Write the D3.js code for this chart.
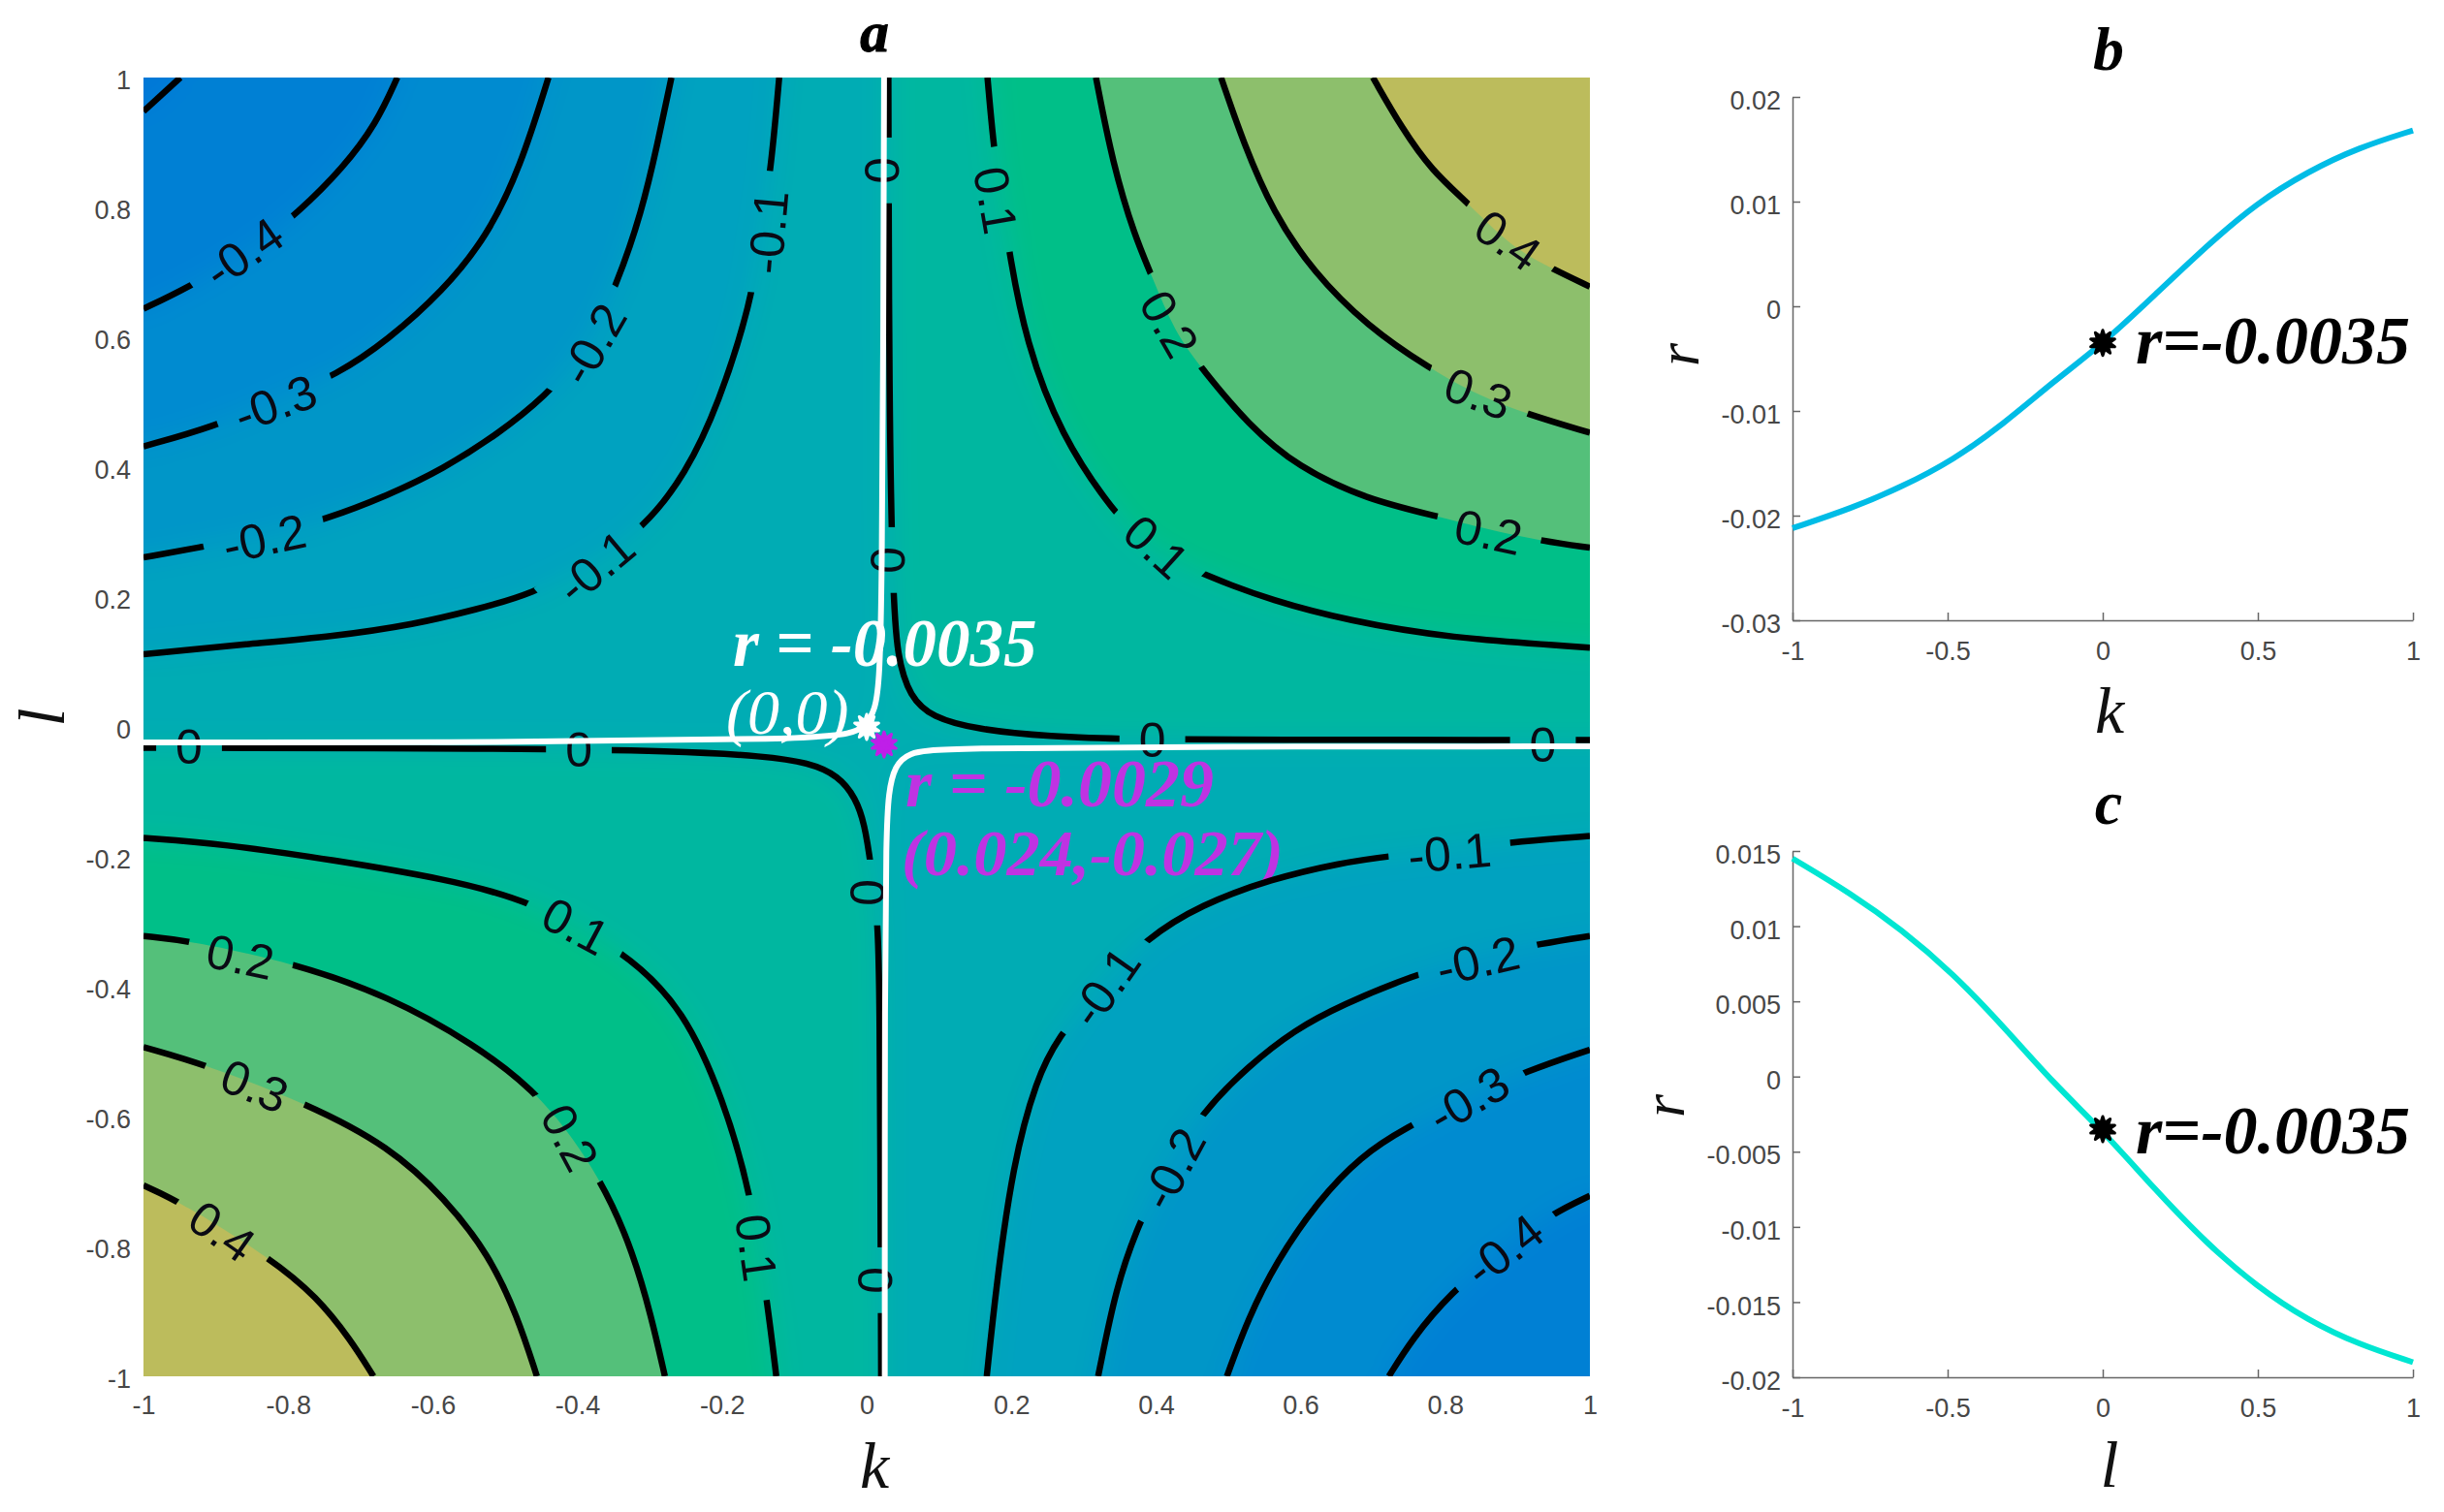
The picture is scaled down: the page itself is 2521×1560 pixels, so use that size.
<!DOCTYPE html>
<html>
<head>
<meta charset="utf-8">
<style>
  html, body { margin: 0; padding: 0; background: #fff; }
  svg { display: block; }
  .tick text { fill: #474747; font-family: "Liberation Sans", sans-serif; font-size: 27px; }
</style>
<script src="https://cdn.jsdelivr.net/npm/d3@7"></script>
</head>
<body>
<svg id="chart" width="2521" height="1560"></svg>
<script>
// contours of panel a as [k, l]
const upLeftZero = [[-1,-.024],[-.5,-.024],[-.08,-.019],[-.02,-.01],[-.003,0],[.012,.025],[.018,.075],[.021,.224],[.023,.6],[.024,1]]
const upLeftM1 = [[-1,.112],[-.853,.128],[-.739,.139],[-.624,.158],[-.54,.181],[-.464,.204],[-.38,.253],[-.308,.306],[-.25,.39],[-.205,.496],[-.159,.656],[-.147,.755],[-.132,.861],[-.121,1]]
const upLeftM2 = [[-1,.261],[-.926,.276],[-.83,.295],[-.747,.32],[-.663,.356],[-.586,.397],[-.51,.451],[-.445,.508],[-.388,.58],[-.346,.679],[-.311,.793],[-.289,.899],[-.27,1]]
const upLeftM3 = [[-1,.432],[-.903,.462],[-.815,.504],[-.731,.543],[-.663,.595],[-.586,.671],[-.525,.755],[-.479,.861],[-.44,1]]
const upLeftM4 = [[-1,.644],[-.941,.675],[-.853,.732],[-.785,.793],[-.724,.861],[-.678,.929],[-.649,1]]
const upLeftM5 = [[-1,.948],[-.949,1]]

const upRightZero = [[.03,1],[.031,.5],[.036,.213],[.042,.107],[.06,.046],[.09,.015],[.152,-.004],[.254,-.015],[.36,-.019],[.528,-.02],[1,-.02]]
const upRightP1 = [[.167,1],[.176,.887],[.186,.815],[.198,.724],[.22,.594],[.268,.449],[.343,.328],[.391,.274],[.47,.232],[.562,.194],[.665,.164],[.802,.137],[1,.122]]
const upRightP2 = [[.317,1],[.34,.868],[.371,.754],[.395,.693],[.425,.609],[.466,.548],[.528,.465],[.596,.4],[.692,.35],[.791,.324],[.856,.305],[.935,.286],[1,.276]]
const upRightP3 = [[.49,1],[.521,.899],[.562,.792],[.617,.701],[.692,.617],[.778,.552],[.846,.51],[.915,.481],[1,.453]]
const upRightP4 = [[.7,1],[.74,.922],[.781,.857],[.832,.806],[.891,.739],[.949,.705],[1,.678]]

const lowLeftZero = [[-1,-.032],[-.5,-.033],[-.26,-.037],[-.141,-.045],[-.08,-.055],[-.039,-.075],[-.015,-.11],[-.003,-.149],[.006,-.213],[.015,-.299],[.018,-.373],[.02,-1]]
const lowLeftP1 = [[-1,-.171],[-.891,-.18],[-.737,-.205],[-.583,-.234],[-.468,-.266],[-.333,-.346],[-.252,-.436],[-.198,-.574],[-.16,-.718],[-.137,-.889],[-.125,-1]]
const lowLeftP2 = [[-1,-.322],[-.937,-.329],[-.791,-.364],[-.66,-.415],[-.545,-.487],[-.448,-.567],[-.364,-.7],[-.322,-.813],[-.298,-.907],[-.279,-1]]
const lowLeftP3 = [[-1,-.493],[-.914,-.52],[-.772,-.581],[-.66,-.646],[-.583,-.726],[-.522,-.813],[-.483,-.907],[-.456,-1]]
const lowLeftP4 = [[-1,-.706],[-.948,-.732],[-.822,-.82],[-.76,-.878],[-.714,-.943],[-.682,-1]]

const lowRightZero = [[1,-.03],[.5,-.03],[.1,-.0325],[.057,-.04],[.039,-.06],[.03,-.1],[.027,-.17],[.025,-.37],[.025,-1]]
const lowRightM1 = [[.166,-1],[.179,-.862],[.202,-.673],[.235,-.541],[.264,-.479],[.319,-.403],[.387,-.325],[.462,-.274],[.559,-.234],[.657,-.209],[.722,-.199],[.819,-.187],[.904,-.176],[1,-.168]]
const lowRightM2 = [[.32,-1],[.345,-.862],[.374,-.771],[.41,-.686],[.465,-.592],[.527,-.523],[.592,-.466],[.657,-.428],[.754,-.383],[.845,-.353],[.936,-.333],[1,-.322]]
const lowRightM3 = [[.498,-1],[.527,-.912],[.566,-.824],[.624,-.73],[.683,-.661],[.745,-.617],[.826,-.573],[.914,-.529],[1,-.497]]
const lowRightM4 = [[.722,-1],[.754,-.943],[.805,-.874],[.884,-.799],[.949,-.749],[1,-.722]]

// contour labels of panel a
const labelText = ['-0.4','-0.3','-0.2','-0.1','-0.2','-0.1','0.1','0.2','0.1','0.4','0.3','0.2','0.1','0.2','0.3','0.4','0.2','0.1','-0.1','-0.2','-0.3','-0.4','-0.1','-0.2','0','0','0','0','0','0','0','0']
const labelK = [-.862,-.818,-.833,-.375,-.379,-.137,.179,.419,.401,.887,.846,.86,-.402,-.866,-.846,-.891,-.41,-.152,.806,.845,.832,.881,.329,.423,.022,.029,.395,.935,-.937,-.398,.001,.012]
const labelL = [.731,.499,.291,.247,.59,.762,.811,.621,.278,.75,.514,.301,-.306,-.353,-.552,-.776,-.632,-.802,-.193,-.359,-.573,-.805,-.4,-.68,.857,.257,-.019,-.027,-.03,-.034,-.255,-.852]
const labelAngle = [-35,-20,-12,-40,-60,-85,80,60,42,35,20,12,28,12,22,35,62,82,-5,-13,-30,-38,-55,-62,90,90,0,0,0,0,90,90]

// line panels
const kValues = [-1,-.812,-.648,-.484,-.321,-.157,0,.17,.334,.497,.661,.825,1]
const rByK = [-.0212,-.01933,-.01726,-.01473,-.01128,-.00714,-.0036,.00114,.00574,.00988,.01287,.01517,.0168]
const lValues = [-1,-.812,-.648,-.484,-.321,-.157,0,.17,.334,.497,.661,.825,1]
const rByL = [.0145,.01218,.00977,.00688,.00336,-.00049,-.0036,-.00755,-.01108,-.01397,-.01621,-.01782,-.019]

const mapTicks = [-1,-.8,-.6,-.4,-.2,0,.2,.4,.6,.8,1]
const lineXTicks = [-1,-.5,0,.5,1]
const rTicksB = [-.03,-.02,-.01,0,.01,.02]
const rTicksC = [-.02,-.015,-.01,-.005,0,.005,.01,.015]

const negColors = ['#00acb4','#00a2c0','#0096c8','#008bd0','#0080d4','#0078d8']
const posColors = ['#00b7a0','#00bf88','#54c07a','#8dbf6c','#bcbc5c']

const serif = '"Liberation Serif", serif'
const svg = d3.select('#chart')
const defs = svg.append('defs')

const x = d3.scaleLinear().domain([-1, 1]).range([148, 1640])
const y = d3.scaleLinear().domain([-1, 1]).range([1420, 80])
const contourLine = d3.line().x(d => x(d[0])).y(d => y(d[1])).curve(d3.curveBasis)

defs.append('clipPath').attr('id', 'plotClip').append('rect')
  .attr('x', x(-1)).attr('y', y(1)).attr('width', x(1) - x(-1)).attr('height', y(-1) - y(1))
defs.append('filter').attr('id', 'soft')
  .attr('filterUnits', 'userSpaceOnUse')
  .attr('x', 0).attr('y', 0).attr('width', 2000).attr('height', 1560)
  .append('feGaussianBlur').attr('stdDeviation', 15)

// region behind a contour, closed through the corner of its quadrant
// pushed past the plot edge so the blur doesn't fade at the border
function region(pts, cornerK, cornerL) {
  const out = p => [Math.abs(p[0]) === 1 ? p[0] * 1.2 : p[0], Math.abs(p[1]) === 1 ? p[1] * 1.2 : p[1]]
  const first = out(pts[0]), last = out(pts[pts.length - 1])
  const tail = [last, [cornerK * 1.2, cornerL * 1.2], first]
  return contourLine(pts) + tail.map(p => `L${x(p[0])},${y(p[1])}`).join('') + 'Z'
}

const clipped = svg.append('g').attr('clip-path', 'url(#plotClip)')
const softLayer = clipped.append('g').attr('filter', 'url(#soft)')
const sharpLayer = clipped.append('g')

softLayer.append('rect').attr('x', 0).attr('y', 0).attr('width', 2000).attr('height', 1560).attr('fill', '#00aeb0')

const softBands = [
  [upLeftZero, -1, 1, negColors[0]], [upLeftM1, -1, 1, negColors[1]], [upLeftM2, -1, 1, negColors[2]],
  [upLeftM3, -1, 1, negColors[3]], [upLeftM4, -1, 1, negColors[4]], [upLeftM5, -1, 1, negColors[5]],
  [lowRightZero, 1, -1, negColors[0]], [lowRightM1, 1, -1, negColors[1]], [lowRightM2, 1, -1, negColors[2]],
  [lowRightM3, 1, -1, negColors[3]], [lowRightM4, 1, -1, negColors[4]],
  [upRightZero, 1, 1, posColors[0]], [upRightP1, 1, 1, posColors[1]],
  [lowLeftZero, -1, -1, posColors[0]], [lowLeftP1, -1, -1, posColors[1]]
]
const sharpBands = [
  [upRightP2, 1, 1, posColors[2]], [upRightP3, 1, 1, posColors[3]], [upRightP4, 1, 1, posColors[4]],
  [lowLeftP2, -1, -1, posColors[2]], [lowLeftP3, -1, -1, posColors[3]], [lowLeftP4, -1, -1, posColors[4]]
]
softLayer.selectAll('path').data(softBands).join('path')
  .attr('d', d => region(d[0], d[1], d[2])).attr('fill', d => d[3])
sharpLayer.selectAll('path').data(sharpBands).join('path')
  .attr('d', d => region(d[0], d[1], d[2])).attr('fill', d => d[3])

// annotations sit under the contour lines
function note(sel, txt, px, py, color, weight, size) {
  return sel.append('text').text(txt).attr('x', px).attr('y', py)
    .attr('fill', color).attr('font-family', serif).attr('font-style', 'italic')
    .attr('font-weight', weight).attr('font-size', size)
}
note(clipped, 'r = -0.0035', 756, 687, '#fff', 'bold', 69)
note(clipped, '(0,0)', 749, 757, '#fff', 'normal', 66)
note(clipped, 'r = -0.0029', 934, 832, '#bf33e2', 'bold', 70)
note(clipped, '(0.024,-0.027)', 930, 903, '#bf33e2', 'bold', 68.5)

// contour labels, measured first so the gaps in the lines fit them
const labels = labelText.map((t, i) => ({ t, k: labelK[i], l: labelL[i], a: labelAngle[i] }))
const labelSel = svg.append('g').selectAll('text').data(labels).join('text')
  .text(d => d.t)
  .attr('text-anchor', 'middle').attr('dy', '.36em')
  .attr('font-family', '"Liberation Sans", sans-serif').attr('font-size', 50).attr('fill', '#0a0a14')
  .attr('transform', d => `translate(${x(d.k)},${y(d.l)}) rotate(${d.a})`)
labelSel.each(function (d) { d.w = this.getComputedTextLength() })

const gaps = defs.append('mask').attr('id', 'labelGaps').attr('maskUnits', 'userSpaceOnUse')
  .attr('x', 0).attr('y', 0).attr('width', 2521).attr('height', 1560)
gaps.append('rect').attr('width', 2521).attr('height', 1560).attr('fill', '#fff')
gaps.selectAll('rect.gap').data(labels).join('rect').attr('class', 'gap')
  .attr('x', d => -d.w / 2 - 20).attr('y', -24).attr('width', d => d.w + 40).attr('height', 48)
  .attr('fill', '#000')
  .attr('transform', d => `translate(${x(d.k)},${y(d.l)}) rotate(${d.a})`)

const blackLines = [upLeftM1, upLeftM2, upLeftM3, upLeftM4, upLeftM5,
  upRightZero, upRightP1, upRightP2, upRightP3, upRightP4,
  lowLeftZero, lowLeftP1, lowLeftP2, lowLeftP3, lowLeftP4,
  lowRightM1, lowRightM2, lowRightM3, lowRightM4]
const lineLayer = clipped.append('g').attr('mask', 'url(#labelGaps)')
lineLayer.selectAll('path').data(blackLines).join('path')
  .attr('d', contourLine).attr('fill', 'none').attr('stroke', '#000').attr('stroke-width', 6.5)

svg.node().appendChild(labelSel.node().parentNode)

const whiteLayer = svg.append('g').attr('clip-path', 'url(#plotClip)')
whiteLayer.selectAll('path').data([upLeftZero, lowRightZero]).join('path')
  .attr('d', contourLine).attr('fill', 'none').attr('stroke', '#fff').attr('stroke-width', 6)

function marker(sel, px, py, color, size) {
  // two stars on top of each other give the blobby hexagram of the original
  ;[0, 36].forEach(a => {
    sel.append('path').attr('d', d3.symbol(d3.symbolStar, size)())
      .attr('transform', `translate(${px},${py}) rotate(${a})`)
      .attr('fill', color).attr('stroke', color).attr('stroke-width', 3).attr('stroke-linejoin', 'round')
  })
}
marker(svg, x(0), y(0), '#fff', 190)
marker(svg, x(.024), y(-.027), '#bf1fe8', 190)

// axes of panel a
const axisA = svg.append('g')
axisA.append('g').attr('transform', `translate(0,${y(-1)})`)
  .call(d3.axisBottom(x).tickValues(mapTicks).tickFormat(d => String(d)).tickSize(0).tickPadding(20))
axisA.append('g').attr('transform', `translate(${x(-1)},3)`)
  .call(d3.axisLeft(y).tickValues(mapTicks).tickFormat(d => String(d)).tickSize(0).tickPadding(13))
axisA.selectAll('.domain').remove()

function title(txt, px, py, size) {
  return svg.append('text').text(txt).attr('x', px).attr('y', py).attr('text-anchor', 'middle')
    .attr('font-family', serif).attr('font-style', 'italic').attr('font-weight', 'bold').attr('font-size', size)
}
function axisName(txt, px, py, angle, size) {
  svg.append('text').text(txt).attr('text-anchor', 'middle')
    .attr('transform', `translate(${px},${py}) rotate(${angle})`)
    .attr('font-family', serif).attr('font-style', 'italic').attr('font-size', size).attr('fill', '#111')
}
// sits hard against the top edge, so a size down with a stroke to keep the weight
title('a', 902, 53, 59).attr('stroke', '#000').attr('stroke-width', 1.2)
axisName('k', 902, 1535, 0, 68)
axisName('l', 66, 740, -90, 68)

function linePanel(cfg) {
  const px = d3.scaleLinear().domain([-1, 1]).range([1849, 2489])
  const py = d3.scaleLinear().domain(cfg.yDomain).range([cfg.bottom, cfg.top])
  const g = svg.append('g')
  g.append('g').attr('transform', `translate(0,${cfg.bottom})`)
    .call(d3.axisBottom(px).tickValues(lineXTicks).tickFormat(d => String(d)).tickSizeInner(-8).tickSizeOuter(0).tickPadding(22))
  const left = g.append('g').attr('transform', `translate(${px(-1)},0)`)
    .call(d3.axisLeft(py).tickValues(cfg.ticks).tickFormat(d => String(d)).tickSizeInner(-8).tickSizeOuter(0).tickPadding(12))
  left.selectAll('text').attr('transform', 'translate(0,4)')
  g.selectAll('.domain, .tick line').attr('stroke', '#666').attr('stroke-width', 1.5)
  g.append('path').datum(cfg.xs.map((v, i) => [v, cfg.ys[i]]))
    .attr('d', d3.line().x(d => px(d[0])).y(d => py(d[1])).curve(d3.curveBasis))
    .attr('fill', 'none').attr('stroke', cfg.color).attr('stroke-width', 6)
  marker(g, px(0), py(-.0035), '#000', 190)
  note(g, 'r=-0.0035', 2203, cfg.noteY, '#000', 'bold', 70)
}
linePanel({ xs: kValues, ys: rByK, yDomain: [-.03, .02], ticks: rTicksB, top: 100, bottom: 640, color: '#00bce6', noteY: 375 })
linePanel({ xs: lValues, ys: rByL, yDomain: [-.02, .015], ticks: rTicksC, top: 878, bottom: 1421, color: '#00e6d2', noteY: 1190 })

title('b', 2175, 72, 64)
axisName('k', 2176, 756, 0, 68)
axisName('r', 1752, 366, -90, 62)
title('c', 2175, 850, 64)
axisName('l', 2176, 1534, 0, 68)
axisName('r', 1737, 1141, -90, 62)
</script>
</body>
</html>
